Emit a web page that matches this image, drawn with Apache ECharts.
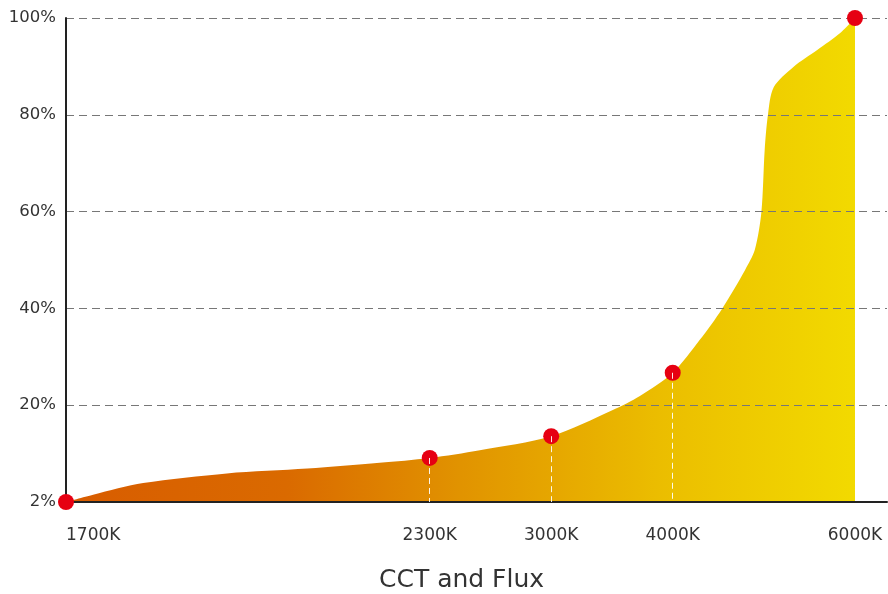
<!DOCTYPE html>
<html>
<head>
<meta charset="utf-8">
<script src="https://cdn.jsdelivr.net/npm/echarts@6/dist/echarts.min.js"></script>
<style>
  html, body { margin: 0; padding: 0; background: #fff; }
  #chart { width: 888px; height: 594px; }
</style>
</head>
<body>
<div id="chart"></div>
<script>
// x positions are along a stretched (non-linear) CCT axis, 0..100
const cctNames = ['1700K', '2300K', '3000K', '4000K', '6000K']
const cctPos = [0, 44.3, 59.1, 73.9, 96.1]
const cctFlux = [0, 9.1, 13.6, 26.7, 100]

// outline of the flux curve
const curveX = [0, 3.3, 9.4, 19.6, 29.4, 38.2, 44.3, 50.4, 59.1, 66.6, 69.9, 73.9, 77.2, 79.9, 82.7, 83.9, 84.7, 85.1, 85.5, 86.2, 88.6, 91.5, 94.3, 96.1]
const curveY = [0, 1.5, 3.9, 5.9, 6.9, 8.1, 9.1, 10.7, 13.6, 19.0, 21.9, 26.7, 33.5, 39.9, 47.9, 52.1, 59.9, 72.7, 80.0, 85.7, 89.9, 93.4, 96.9, 100]

const yTickLabels = ['2%', '20%', '40%', '60%', '80%', '100%']

const curve = curveX.map((x, i) => [x, curveY[i]])
const points = cctPos.map((x, i) => [x, cctFlux[i]])
const dropLines = cctPos.slice(1, 4).map((x, i) => [
  { coord: [x, cctFlux[i + 1]] },
  { coord: [x, 0] }
])

const labelFont = 'DejaVu Sans'

const options = {
  animation: false,
  title: {
    text: 'CCT and Flux',
    left: 374,
    top: 563,
    textStyle: {
      fontFamily: labelFont,
      fontSize: 25,
      fontWeight: 'normal',
      color: '#333'
    }
  },
  grid: { left: 66, right: 1, top: 18, bottom: 92 },
  xAxis: {
    type: 'value',
    min: 0,
    max: 100,
    z: 2,
    axisLine: { lineStyle: { color: '#222', width: 2 } },
    axisTick: { show: false },
    splitLine: { show: false },
    axisLabel: {
      customValues: cctPos,
      alignMinLabel: 'left',
      formatter: v => cctNames[cctPos.indexOf(v)],
      margin: 25,
      fontFamily: labelFont,
      fontSize: 17,
      color: '#333'
    }
  },
  yAxis: {
    type: 'value',
    min: 0,
    max: 100,
    interval: 20,
    z: 2,
    axisLine: { show: true, lineStyle: { color: '#222', width: 2 } },
    axisTick: { show: false },
    // grid lines sit on top of the filled area
    splitLine: { lineStyle: { color: '#777', type: [8, 5], width: 1 } },
    axisLabel: {
      formatter: v => yTickLabels[v / 20],
      margin: 10,
      fontFamily: labelFont,
      fontSize: 16.5,
      color: '#333'
    }
  },
  series: [
    {
      type: 'line',
      data: curve,
      smooth: 0.3,
      symbol: 'none',
      lineStyle: { width: 0 },
      areaStyle: {
        opacity: 1,
        color: new echarts.graphic.LinearGradient(0, 0, 1, 0, [
          { offset: 0, color: '#d85c00' },
          { offset: 0.28, color: '#da6a00' },
          { offset: 0.5, color: '#e19300' },
          { offset: 0.75, color: '#ebbd00' },
          { offset: 1, color: '#f2da00' }
        ])
      },
      z: 1
    },
    {
      type: 'scatter',
      data: points,
      symbolSize: 16,
      itemStyle: { color: '#e60012', opacity: 1 },
      markLine: {
        silent: true,
        symbol: 'none',
        label: { show: false },
        lineStyle: { color: '#fff', type: [6, 4], width: 1, opacity: 0.9 },
        data: dropLines
      },
      z: 3
    }
  ]
}

const chart = echarts.init(document.getElementById('chart'))
chart.setOption(options)
window.addEventListener('resize', function () {
  chart && chart.resize()
})
</script>
</body>
</html>
